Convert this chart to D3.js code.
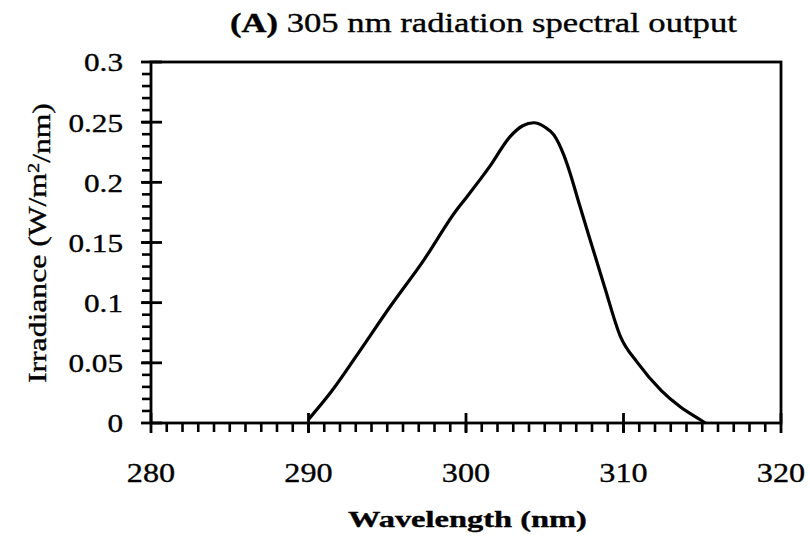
<!DOCTYPE html>
<html>
<head>
<meta charset="utf-8">
<script src="https://cdn.jsdelivr.net/npm/d3@7"></script>
<style>
  body { margin: 0; background: #fff; }
  text { font-family: "Liberation Serif", "DejaVu Serif", serif; fill: #000; stroke: #000; stroke-width: 0.35px; }
</style>
</head>
<body>
<div id="chart"></div>
<script>
const width = 810;
const height = 545;
const margin = { top: 62, right: 29, bottom: 122, left: 151 };

// spectral output
const wavelength = [290, 291.5, 293, 295.2, 297.3, 299.4, 300, 301.5, 302.8, 303.6, 304.3, 305, 305.6, 306.2, 306.6, 307.1, 307.7, 308.8, 309.8, 310.9, 312.4, 313.6, 314.9, 315.2];
const irradiance = [0.003, 0.027, 0.055, 0.097, 0.135, 0.177, 0.187, 0.213, 0.238, 0.247, 0.2495, 0.246, 0.239, 0.223, 0.208, 0.186, 0.160, 0.113, 0.072, 0.050, 0.027, 0.0135, 0.0025, 0];

const xTicks = [280, 290, 300, 310, 320];
const yTicks = [0, 0.05, 0.1, 0.15, 0.2, 0.25, 0.3];

const svg = d3.select("#chart")
    .append("svg")
    .attr("width", width)
    .attr("height", height);

const x = d3.scaleLinear()
    .domain([280, 320])
    .range([margin.left, width - margin.right]);

const y = d3.scaleLinear()
    .domain([0, 0.3])
    .range([height - margin.bottom, margin.top]);

const x0 = x(280), x1 = x(320), y0 = y(0), y1 = y(0.3);

// the original type is wider than Liberation Serif, so widen glyphs
function widen(sel, px, py, factor, rotate) {
    sel.attr("transform", (d, i) => {
        const tx = typeof px === "function" ? px(d, i) : px;
        const ty = typeof py === "function" ? py(d, i) : py;
        return `translate(${tx},${ty})` + (rotate ? ` rotate(${rotate})` : "") + ` scale(${factor},1)`;
    });
}

function fitTo(sel, px, py, target, rotate) {
    const len = sel.node().getComputedTextLength();
    widen(sel, px, py, target / len, rotate);
}

// frame
svg.append("rect")
    .attr("x", x0)
    .attr("y", y1)
    .attr("width", x1 - x0)
    .attr("height", y0 - y1)
    .attr("fill", "none")
    .attr("stroke", "#000")
    .attr("stroke-width", 2.8);

// minor ticks
svg.append("g")
    .selectAll("line")
    .data(d3.range(281, 320, 1))
    .enter()
    .append("line")
    .attr("x1", d => x(d))
    .attr("x2", d => x(d))
    .attr("y1", y0)
    .attr("y2", y0 + 9)
    .attr("stroke", "#000")
    .attr("stroke-width", 2.6);

svg.append("g")
    .selectAll("line")
    .data(d3.range(1, 30, 1).map(d => d / 100))
    .enter()
    .append("line")
    .attr("x1", x0 - 9)
    .attr("x2", x0)
    .attr("y1", d => y(d))
    .attr("y2", d => y(d))
    .attr("stroke", "#000")
    .attr("stroke-width", 2.6);

// major ticks, crossing the axis
svg.append("g")
    .selectAll("line")
    .data(xTicks)
    .enter()
    .append("line")
    .attr("x1", d => x(d))
    .attr("x2", d => x(d))
    .attr("y1", y0 - 10)
    .attr("y2", y0 + 10)
    .attr("stroke", "#000")
    .attr("stroke-width", 2.8);

svg.append("g")
    .selectAll("line")
    .data(yTicks)
    .enter()
    .append("line")
    .attr("x1", x0 - 10)
    .attr("x2", x0 + 11)
    .attr("y1", d => y(d))
    .attr("y2", d => y(d))
    .attr("stroke", "#000")
    .attr("stroke-width", 2.8);

// tick labels
const xLabels = svg.append("g")
    .selectAll("text")
    .data(xTicks)
    .enter()
    .append("text")
    .attr("text-anchor", "middle")
    .attr("font-size", "28px")
    .text(d => d);
widen(xLabels, d => x(d), 482, 1.15);

const yLabels = svg.append("g")
    .selectAll("text")
    .data(yTicks)
    .enter()
    .append("text")
    .attr("dy", ".36em")
    .attr("text-anchor", "end")
    .attr("font-size", "26px")
    .text(d => d);
widen(yLabels, x0 - 28, d => y(d), 1.2);

// curve
const line = d3.line()
    .x((d, i) => x(wavelength[i]))
    .y(d => y(d))
    .curve(d3.curveMonotoneX);

svg.append("path")
    .datum(irradiance)
    .attr("d", line)
    .attr("fill", "none")
    .attr("stroke", "#000")
    .attr("stroke-width", 3.2)
    .attr("stroke-linejoin", "round");

// titles
const title = svg.append("text")
    .attr("font-size", "27px");
title.append("tspan").attr("font-weight", "bold").text("(A)");
title.append("tspan").text(" 305 nm radiation spectral output");
fitTo(title, 230, 32, 507);

const xTitle = svg.append("text")
    .attr("font-size", "23px")
    .attr("font-weight", "bold")
    .text("Wavelength (nm)");
fitTo(xTitle, 348, 527, 239);

const yTitle = svg.append("text")
    .attr("font-size", "25px");
yTitle.append("tspan").text("Irradiance (W/m");
yTitle.append("tspan").attr("dy", "-0.45em").attr("font-size", "16px").text("2");
yTitle.append("tspan").attr("dy", "0.45em").text("/nm)");
fitTo(yTitle, 46, 383, 280, -90);
</script>
</body>
</html>
